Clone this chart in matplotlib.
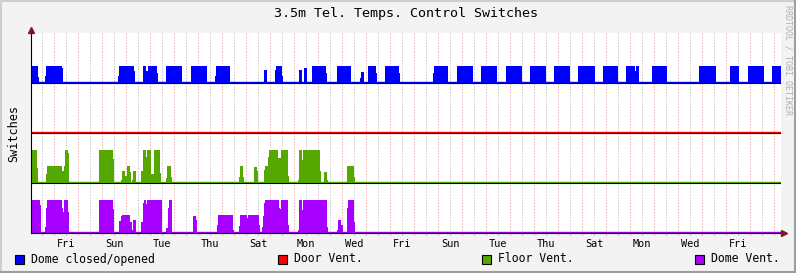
import numpy as np
import matplotlib
matplotlib.use("Agg")
import matplotlib.pyplot as plt
from matplotlib.patches import Rectangle
from matplotlib.lines import Line2D

plt.rcParams['font.family'] = ['DejaVu Sans Mono']

W, H_PX = 796, 273

# time axis is in hours since the left edge of the graph
SPAN = 750.0
FIRST_MIDNIGHT = 23.3
day_labels = ['Fri', 'Sun', 'Tue', 'Thu', 'Sat', 'Mon', 'Wed',
              'Fri', 'Sun', 'Tue', 'Thu', 'Sat', 'Mon', 'Wed', 'Fri']

F = 0.67   # full switch level
H = 0.35   # half level

# (start hour, end hour, level)
dome_closed_opened = [
    (0, 6.7, H), (6.7, 7.7, 0.12),
    (13.7, 14.7, 0.15), (14.7, 31, H), (31, 32, 0.3),
    (86.7, 87.7, 0.15), (87.7, 103, H), (103, 104, 0.25),
    (112, 114.7, H), (114.7, 116.7, 0.25), (116.7, 126.3, H), (126.3, 127.3, 0.2),
    (135.3, 151.3, H),
    (160, 176, H),
    (184, 185, 0.15), (185, 199, H),
    (233, 236, 0.27),
    (244, 245, 0.27), (245, 250.7, H), (250.7, 251.7, 0.15),
    (267.7, 271.3, 0.27),
    (273, 276, 0.3),
    (281, 295, H), (295, 296.3, 0.2),
    (305.7, 319.7, H),
    (329, 330, 0.1), (330, 333, 0.23),
    (337, 345, H), (345, 346, 0.2),
    (354, 368, H), (368, 369, 0.2),
    (402, 403, 0.2), (403, 417.3, H),
    (426, 442, H),
    (450.3, 466.3, H),
    (474.7, 490.7, H),
    (498.7, 514.7, H),
    (523, 539.3, H),
    (547.3, 564, H),
    (571.7, 586.7, H),
    (595, 603.5, H), (603.5, 604.5, 0.25), (604.5, 607.7, H),
    (620.7, 635.7, H),
    (668.3, 684.7, H),
    (699, 708, H),
    (717.3, 733.3, H),
    (741.3, 750, H),
]

door_vent = []

floor_vent = [
    (0, 5.7, F), (5.7, 7, 0.31),
    (15, 16, 0.19), (16, 30.7, H), (30.7, 33, 0.25), (33, 34, H), (34, 36.7, F), (36.7, 37.7, 0.6),
    (68, 82, F), (82, 83, 0.49),
    (90, 91.3, 0.06), (91.3, 94, 0.25), (94, 95.7, 0.15), (95.7, 99.3, H), (99.3, 100.3, 0.22),
    (100.7, 102, 0.07), (102, 105, 0.25),
    (109.7, 111.7, 0.24), (111.7, 115, F), (115, 116, 0.52), (116, 120, F), (120, 122.7, 0.19),
    (122.7, 129, F), (129, 130, 0.21),
    (135, 136, 0.09), (136, 140, H), (140, 141, 0.12),
    (208, 209, 0.13), (209, 211.7, H), (211.7, 212.7, 0.12),
    (223, 225.7, 0.33), (225.7, 227, 0.25),
    (233, 234.3, 0.27), (234.3, 237, H), (237, 238, 0.53), (238, 247.3, F), (247.3, 249.7, 0.51),
    (249.7, 256.7, F), (256.7, 258, 0.15),
    (267, 268.3, 0.07), (268.3, 270.7, F), (270.7, 271.7, 0.47), (271.7, 289, F), (289, 290, 0.25),
    (292.7, 295.7, 0.23), (295.7, 296.7, 0.07),
    (316, 322.7, H), (322.7, 323.7, 0.12),
]

dome_vent = [
    (0, 8.7, F), (8.7, 10, 0.57),
    (14, 15.3, 0.11), (15.3, 16.3, 0.51), (16.3, 30.7, F), (30.7, 31.7, 0.51), (31.7, 33, 0.41),
    (33, 36.7, F), (36.7, 37.7, 0.41),
    (68, 82, F), (82, 83.3, 0.48),
    (88, 90, 0.23), (90, 91, 0.33), (91, 99.3, H), (99.3, 100.7, 0.21), (100.7, 102, 0.05),
    (102, 105, 0.25),
    (109.7, 111.7, 0.21), (111.7, 113, 0.61), (113, 115, F), (115, 116, 0.58), (116, 130.7, F),
    (135.3, 136.7, 0.1), (136.7, 137.7, 0.51), (137.7, 141, F),
    (162, 164.7, 0.33), (164.7, 165.7, 0.25),
    (186, 187, 0.15), (187, 201.7, H), (201.7, 202.7, 0.06),
    (208, 209, 0.13), (209, 216, H), (216, 217, 0.3), (217, 227.7, H), (227.7, 229, 0.15),
    (231, 232, 0.11), (232, 233, 0.34), (233, 234.3, 0.61), (234.3, 248, F), (248, 249, 0.5),
    (249, 250, 0.48), (250, 256.7, F), (256.7, 258, 0.15),
    (267, 268.3, 0.06), (268.3, 271, F), (271, 272, 0.46), (272, 295.7, F), (295.7, 296.7, 0.11),
    (306, 307, 0.06), (307, 310, 0.26), (310, 311.7, 0.15),
    (316, 317, 0.51), (317, 322.7, F), (322.7, 323.7, 0.21),
]

series_names = ['Dome closed/opened', 'Door Vent.', 'Floor Vent.', 'Dome Vent.']
series_data = [dome_closed_opened, door_vent, floor_vent, dome_vent]
series_colors = ['#0000ff', '#ff0000', '#54a800', '#a800ff']
series_offsets = [3, 2, 1, 0]


def steps(intervals):
    xs = [0.0]
    ys = [0.0]
    for a, b, v in intervals:
        xs += [a, b]
        ys += [v, 0.0]
    xs.append(SPAN)
    ys.append(0.0)
    return np.array(xs), np.array(ys)


fig = plt.figure(figsize=(W / 100, H_PX / 100), dpi=100, facecolor='#f3f3f3')

# plot area: x 31..781, y 33..233 px
ax = fig.add_axes([31 / W, 1 - 233 / H_PX, 750 / W, 200 / H_PX])
ax.set_facecolor('white')
ax.set_xlim(0, SPAN)
ax.set_ylim(0, 4)

#
# grid: 12h minor (gray), midnight major (pale red)
#
t = FIRST_MIDNIGHT - 12
while t < SPAN:
    is_major = abs(((t - FIRST_MIDNIGHT) / 24) - round((t - FIRST_MIDNIGHT) / 24)) < 1e-6
    col = '#f0b4b4' if is_major else '#c8c8c8'
    ax.axvline(t, color=col, lw=0.75, dashes=(1.4, 1.4), zorder=1)
    ax.plot([t, t], [0, -0.012], transform=ax.get_xaxis_transform(), color=col,
            lw=0.75, clip_on=False, zorder=1)
    t += 12

#
# stacked switch bands
#
for data, col, off in zip(series_data, series_colors, series_offsets):
    x, y = steps(data)
    ax.fill_between(x, off, off + y, step='post', color=col, lw=0, zorder=2)
    ax.axhline(off + 0.02, color=col, lw=1.0, zorder=3)
    ax.axhline(off - 0.005, color='black', lw=0.8, zorder=3)

for s in ['top', 'right']:
    ax.spines[s].set_visible(False)
for s in ['left', 'bottom']:
    ax.spines[s].set_color('black')
    ax.spines[s].set_linewidth(0.8)
    ax.spines[s].set_zorder(4)

ax.set_yticks([])
ax.set_xticks([FIRST_MIDNIGHT + 12 + 48 * i for i in range(len(day_labels))])
ax.set_xticklabels(day_labels, fontsize=7.4)
ax.tick_params(axis='x', length=0, pad=4)

# arrows at the axis ends
ax.plot([1 + 3 / 750], [0], marker='>', ms=4, color='#801818', transform=ax.transAxes,
        clip_on=False, zorder=5)
ax.plot([0], [1 + 3 / 200], marker='^', ms=4, color='#801818', transform=ax.transAxes,
        clip_on=False, zorder=5)

ax.set_ylabel('Switches', fontsize=8.5, labelpad=8)

fig.text(406 / W, 1 - 14 / H_PX, '3.5m Tel. Temps. Control Switches', fontsize=9.6,
         ha='center', va='center')
fig.text(788 / W, 1 - 5 / H_PX, 'RRDTOOL / TOBI OETIKER', fontsize=6, color='#b0b0b0',
         rotation=270, ha='center', va='top')

#
# legend row
#
legend_x = [15, 278, 482, 695]
for name, col, lx in zip(series_names, series_colors, legend_x):
    fig.add_artist(Rectangle((lx / W, 1 - 264 / H_PX), 9 / W, 9 / H_PX, facecolor=col,
                             edgecolor='black', lw=0.8, transform=fig.transFigure))
    fig.text((lx + 16) / W, 1 - 259 / H_PX, name, fontsize=8.3, ha='left', va='center')

# 3d-ish frame
fig.add_artist(Line2D([0, 1], [1 - 0.5 / H_PX] * 2, color='#cfcfcf', lw=1.5, transform=fig.transFigure))
fig.add_artist(Line2D([0.5 / W] * 2, [0, 1], color='#cfcfcf', lw=1.5, transform=fig.transFigure))
fig.add_artist(Line2D([0, 1], [1 / H_PX] * 2, color='#9e9e9e', lw=1.5, transform=fig.transFigure))
fig.add_artist(Line2D([1 - 1 / W] * 2, [0, 1], color='#9e9e9e', lw=1.5, transform=fig.transFigure))

fig.savefig('out.png', dpi=100, facecolor=fig.get_facecolor())
